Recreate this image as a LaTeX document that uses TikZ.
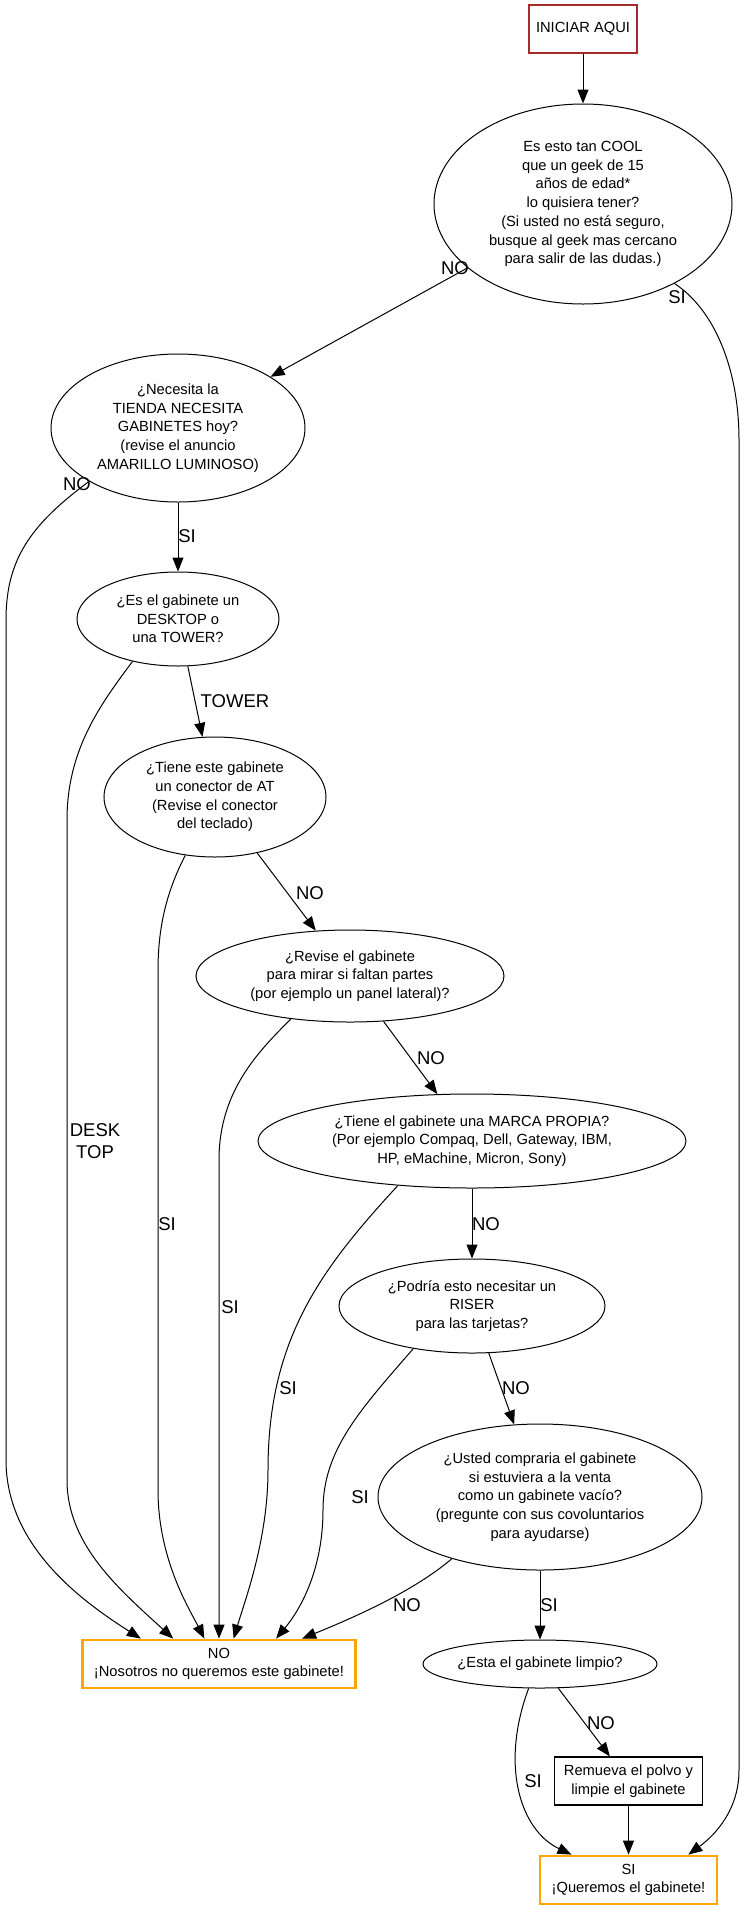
\documentclass[tikz,border=0pt]{standalone}
\usepackage{fontspec}
\setmainfont{Liberation Sans}
\usetikzlibrary{arrows.meta,shapes.geometric}
\definecolor{gvbrown}{HTML}{A52A2A}
\definecolor{gvorange}{HTML}{FFA500}
\begin{document}
\begin{tikzpicture}[x=1bp,y=-1bp,
  txt/.style={font=\fontsize{14.7bp}{18.7bp}\selectfont,align=center,inner sep=0pt},
  qnode/.style={txt,draw,ellipse,line width=1bp},
  startbox/.style={txt,draw=gvbrown,rectangle,line width=2.8bp,minimum width=108bp,minimum height=48bp},
  endbox/.style={txt,draw=gvorange,rectangle,line width=2.8bp,minimum height=48bp},
  actbox/.style={txt,draw,rectangle,line width=1.2bp,minimum width=148bp,minimum height=48bp},
  edge/.style={line width=1bp,-{Triangle[length=14bp,width=11bp]}},
  lab/.style={font=\fontsize{18.5bp}{21.7bp}\selectfont,align=center,inner sep=0pt}]
\useasboundingbox (0,0) rectangle (741,1909);

% nodes
\node[startbox] (start) at (583,29) {INICIAR AQUI};
\node[qnode,minimum width=298bp,minimum height=200bp] (e1) at (583,204)
  {Es esto tan COOL\\que un geek de 15\\años de edad*\\lo quisiera tener?\\(Si usted no está seguro,\\busque al geek mas cercano\\para salir de las dudas.)};
\node[qnode,minimum width=254bp,minimum height=148bp] (e2) at (178,428)
  {¿Necesita la\\TIENDA NECESITA\\GABINETES hoy?\\(revise el anuncio\\AMARILLO LUMINOSO)};
\node[qnode,minimum width=202bp,minimum height=94bp] (e3) at (178,619)
  {¿Es el gabinete un\\DESKTOP o\\una TOWER?};
\node[qnode,minimum width=222bp,minimum height=120bp] (e4) at (215,797)
  {¿Tiene este gabinete\\un conector de AT\\(Revise el conector\\del teclado)};
\node[qnode,minimum width=308bp,minimum height=92bp] (e5) at (350,976)
  {¿Revise el gabinete\\para mirar si faltan partes\\(por ejemplo un panel lateral)?};
\node[qnode,minimum width=428bp,minimum height=94bp] (e6) at (472,1141)
  {¿Tiene el gabinete una MARCA PROPIA?\\(Por ejemplo Compaq, Dell, Gateway, IBM,\\HP, eMachine, Micron, Sony)};
\node[qnode,minimum width=266bp,minimum height=94bp] (e7) at (472,1306)
  {¿Podría esto necesitar un\\RISER\\para las tarjetas?};
\node[qnode,minimum width=324bp,minimum height=146bp] (e8) at (540,1497)
  {¿Usted compraria el gabinete\\si estuviera a la venta\\como un gabinete vacío?\\(pregunte con sus covoluntarios\\para ayudarse)};
\node[qnode,minimum width=234bp,minimum height=48bp] (e9) at (540,1664)
  {¿Esta el gabinete limpio?};
\node[endbox,minimum width=273bp] (nobox) at (219,1664)
  {NO\\¡Nosotros no queremos este gabinete!};
\node[actbox] (rbox) at (628.5,1781) {Remueva el polvo y\\limpie el gabinete};
\node[endbox,minimum width=177bp] (sbox) at (628.5,1880) {SI\\¡Queremos el gabinete!};

% edges
\draw[edge] (start) -- (e1);
\draw[edge] (e1) -- (e2);
\draw[edge] (e1.-41) .. controls (715,310) and (739,370) .. (739,440) -- (739,1770)
  .. controls (739,1810) and (715,1835) .. (sbox.23);
\draw[edge] (e2.211) .. controls (30,525) and (6,560) .. (6,620) -- (6,1460)
  .. controls (6,1545) and (80,1600) .. (nobox.162);
\draw[edge] (e2) -- (e3);
\draw[edge] (e3) -- (e4);
\draw[edge] (e3.223) .. controls (100,705) and (67,750) .. (67,820) -- (67,1480)
  .. controls (67,1545) and (120,1590) .. (nobox.151);
\draw[edge] (e4) -- (e5);
\draw[edge] (e4.243) .. controls (170,885) and (158,920) .. (158,970) -- (158,1490)
  .. controls (158,1560) and (190,1610) .. (nobox.120);
\draw[edge] (e5) -- (e6);
\draw[edge] (e5.216) .. controls (260,1050) and (219,1090) .. (219,1160) -- (nobox.north);
\draw[edge] (e6) -- (e7);
\draw[edge] (e6.211) .. controls (320,1270) and (268,1340) .. (268,1470)
  .. controls (268,1540) and (245,1600) .. (nobox.60);
\draw[edge] (e7) -- (e8);
\draw[edge] (e7.216) .. controls (360,1410) and (323,1450) .. (323,1510)
  .. controls (323,1570) and (300,1610) .. (nobox.24);
\draw[edge] (e8.215) .. controls (415,1590) and (360,1615) .. (nobox.17);
\draw[edge] (e8) -- (e9);
\draw[edge] (e9) -- (rbox);
\draw[edge] (e9.245) .. controls (500,1765) and (520,1830) .. (sbox.156);
\draw[edge] (rbox) -- (sbox);

% edge labels
\node[lab] (l1) at (455,268) {NO};
\node[lab] (l2) at (677,297) {SI};
\node[lab] (l3) at (77,484) {NO};
\node[lab] (l4) at (187,536) {SI};
\node[lab] (l5) at (235,701) {TOWER};
\node[lab] (l6) at (95,1141) {DESK\\TOP};
\node[lab] (l7) at (310,893) {NO};
\node[lab] (l8) at (431,1058) {NO};
\node[lab] (l9) at (167,1224) {SI};
\node[lab] (l10) at (486,1224) {NO};
\node[lab] (l11) at (230,1307) {SI};
\node[lab] (l12) at (516,1388) {NO};
\node[lab] (l13) at (288,1388) {SI};
\node[lab] (l14) at (360,1497) {SI};
\node[lab] (l15) at (407,1605) {NO};
\node[lab] (l16) at (549,1605) {SI};
\node[lab] (l17) at (601,1723) {NO};
\node[lab] (l18) at (533,1781) {SI};
\end{tikzpicture}
\end{document}
